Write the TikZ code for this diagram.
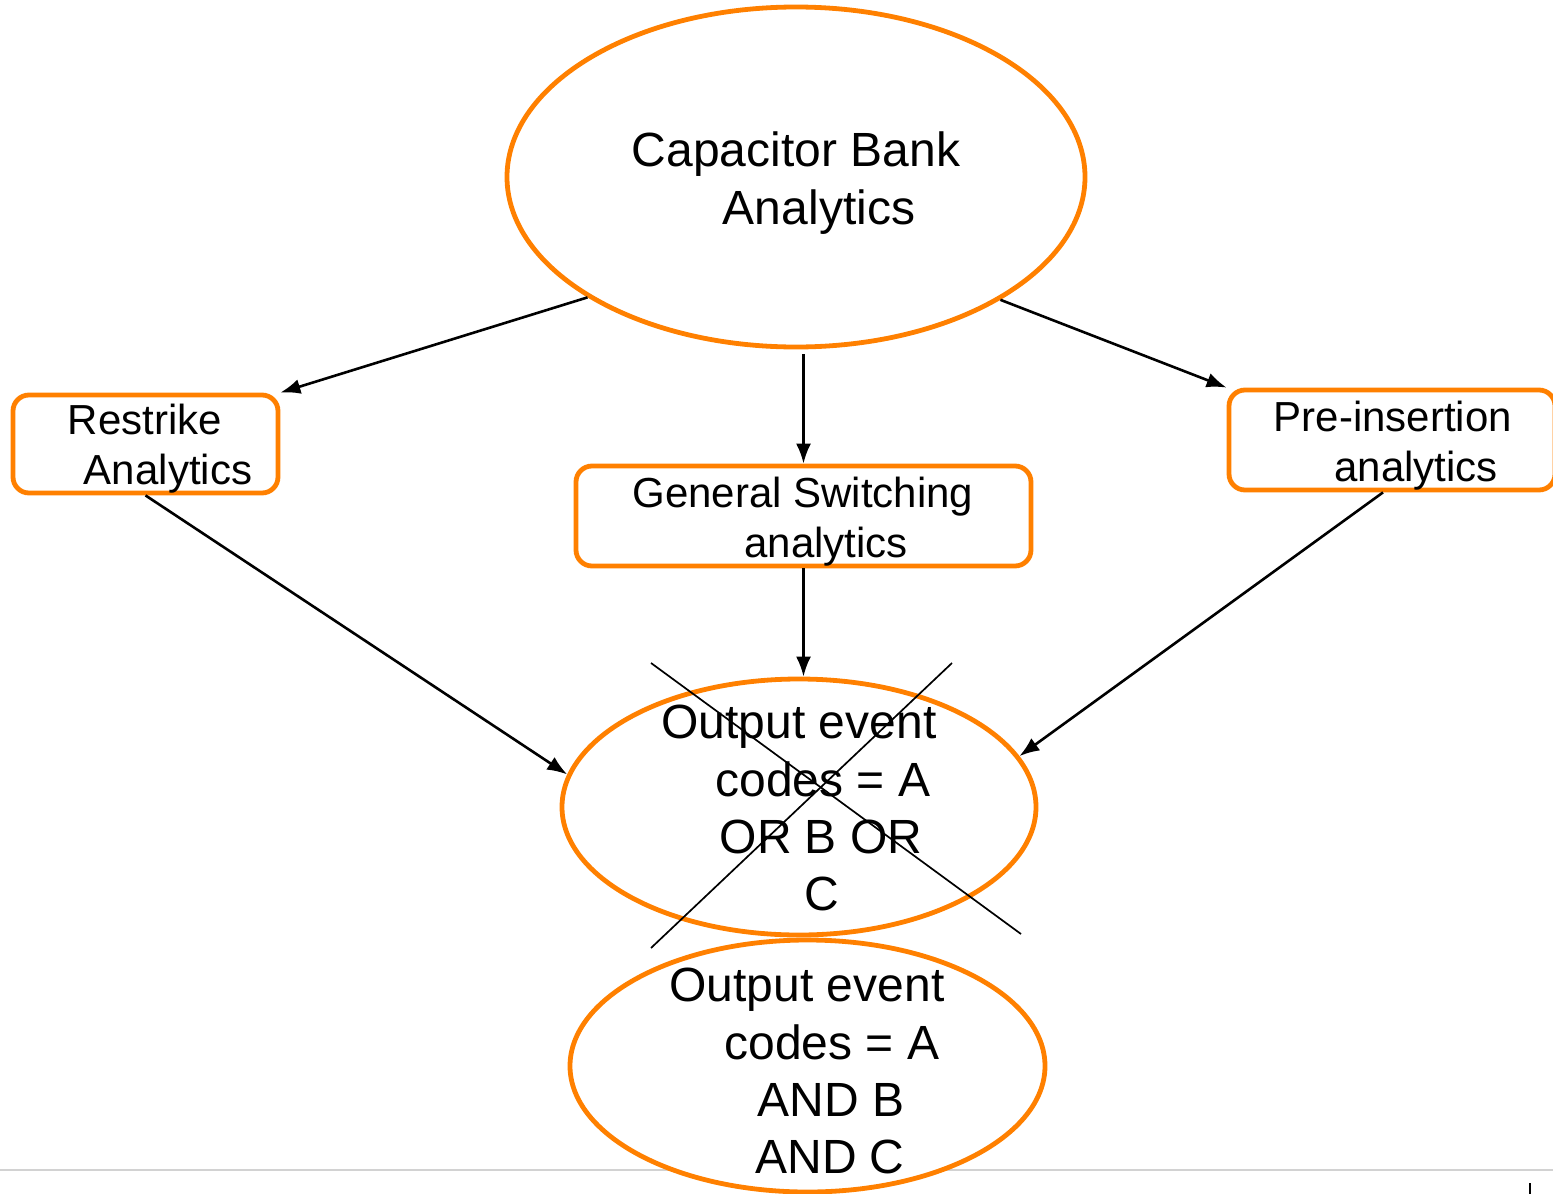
\documentclass[tikz,border=0pt]{standalone}
\usepackage{fontspec}
\setmainfont{Liberation Sans}
\usetikzlibrary{shapes.geometric,arrows.meta,calc}
\definecolor{bankorange}{RGB}{255,128,0}
\definecolor{rulegray}{RGB}{210,210,210}
\tikzset{
  oval/.style={ellipse,draw=bankorange,line width=4.8pt,fill=white,inner sep=0pt},
  card/.style={rectangle,draw=bankorange,line width=4.8pt,rounded corners=16pt,fill=white,inner sep=0pt},
  big/.style={anchor=base,inner sep=0pt,font=\fontsize{48}{58}\selectfont},
  small/.style={anchor=base,inner sep=0pt,font=\fontsize{42}{50}\selectfont},
  link/.style={line width=2.6pt,-{Latex[length=20pt,width=15pt]}},
  strike/.style={line width=1.7pt}
}
\begin{document}
\begin{tikzpicture}[x=1pt,y=-1pt]
\useasboundingbox (0,0) rectangle (1553,1194);
\clip (0,0) rectangle (1553,1194);

% footer rule and tick
\coordinate (ruleL) at (0,1170);
\coordinate (ruleR) at (1553,1170);
\draw[rulegray,line width=2.5pt] (ruleL) -- (ruleR);
\coordinate (tickT) at (1530,1183);
\coordinate (tickB) at (1530,1196);
\draw[line width=2.4pt] (tickT) -- (tickB);

% shapes
\node[oval,minimum width=578pt,minimum height=340pt] (top) at (796,177) {};
\node[card,minimum width=265pt,minimum height=98pt] (rs) at (145.5,444) {};
\node[card,minimum width=455pt,minimum height=100pt] (gen) at (803.5,516) {};
\node[card,minimum width=326pt,minimum height=100pt] (pre) at (1392,440) {};
\node[oval,minimum width=474pt,minimum height=256pt] (out1) at (799,807) {};
\node[oval,minimum width=475pt,minimum height=252pt] (out2) at (807.5,1066) {};

% labels
\node[big] (topA) at (796,166) {Capacitor Bank};
\node[big] (topB) at (819,224) {Analytics};
\node[small] (rsA) at (145,434) {Restrike};
\node[small] (rsB) at (168,484) {Analytics};
\node[small] (genA) at (803,507) {General Switching};
\node[small] (genB) at (826,557) {analytics};
\node[small] (preA) at (1393,431) {Pre-insertion};
\node[small] (preB) at (1416,481) {analytics};
\node[big] (o1A) at (799,738) {Output event};
\node[big] (o1B) at (823,796) {codes = A};
\node[big] (o1C) at (821,853) {OR B OR};
\node[big] (o1D) at (822,910) {C};
\node[big] (o2A) at (807,1001) {Output event};
\node[big] (o2B) at (832,1059) {codes = A};
\node[big] (o2C) at (831,1116) {AND B};
\node[big] (o2D) at (830,1173) {AND C};

% connectors
\draw[link] (top.210.5) -- (rs.north east);
\draw[link] ($(gen.north |- top.south)+(0,5)$) -- (gen.north);
\draw[link] (top.329.5) -- (pre.north west);
\draw[link] (rs.south) -- (out1.172.8);
\draw[link] (gen.south) -- (gen.south |- out1.north);
\draw[link] ([xshift=-9pt]pre.south) -- (out1.13.2);

% strike-through over the first result
\coordinate (xA1) at (651,663);
\coordinate (xA2) at (1021,934);
\coordinate (xB1) at (952,663);
\coordinate (xB2) at (651,948);
\draw[strike] (xA1) -- (xA2);
\draw[strike] (xB1) -- (xB2);
\end{tikzpicture}
\end{document}
